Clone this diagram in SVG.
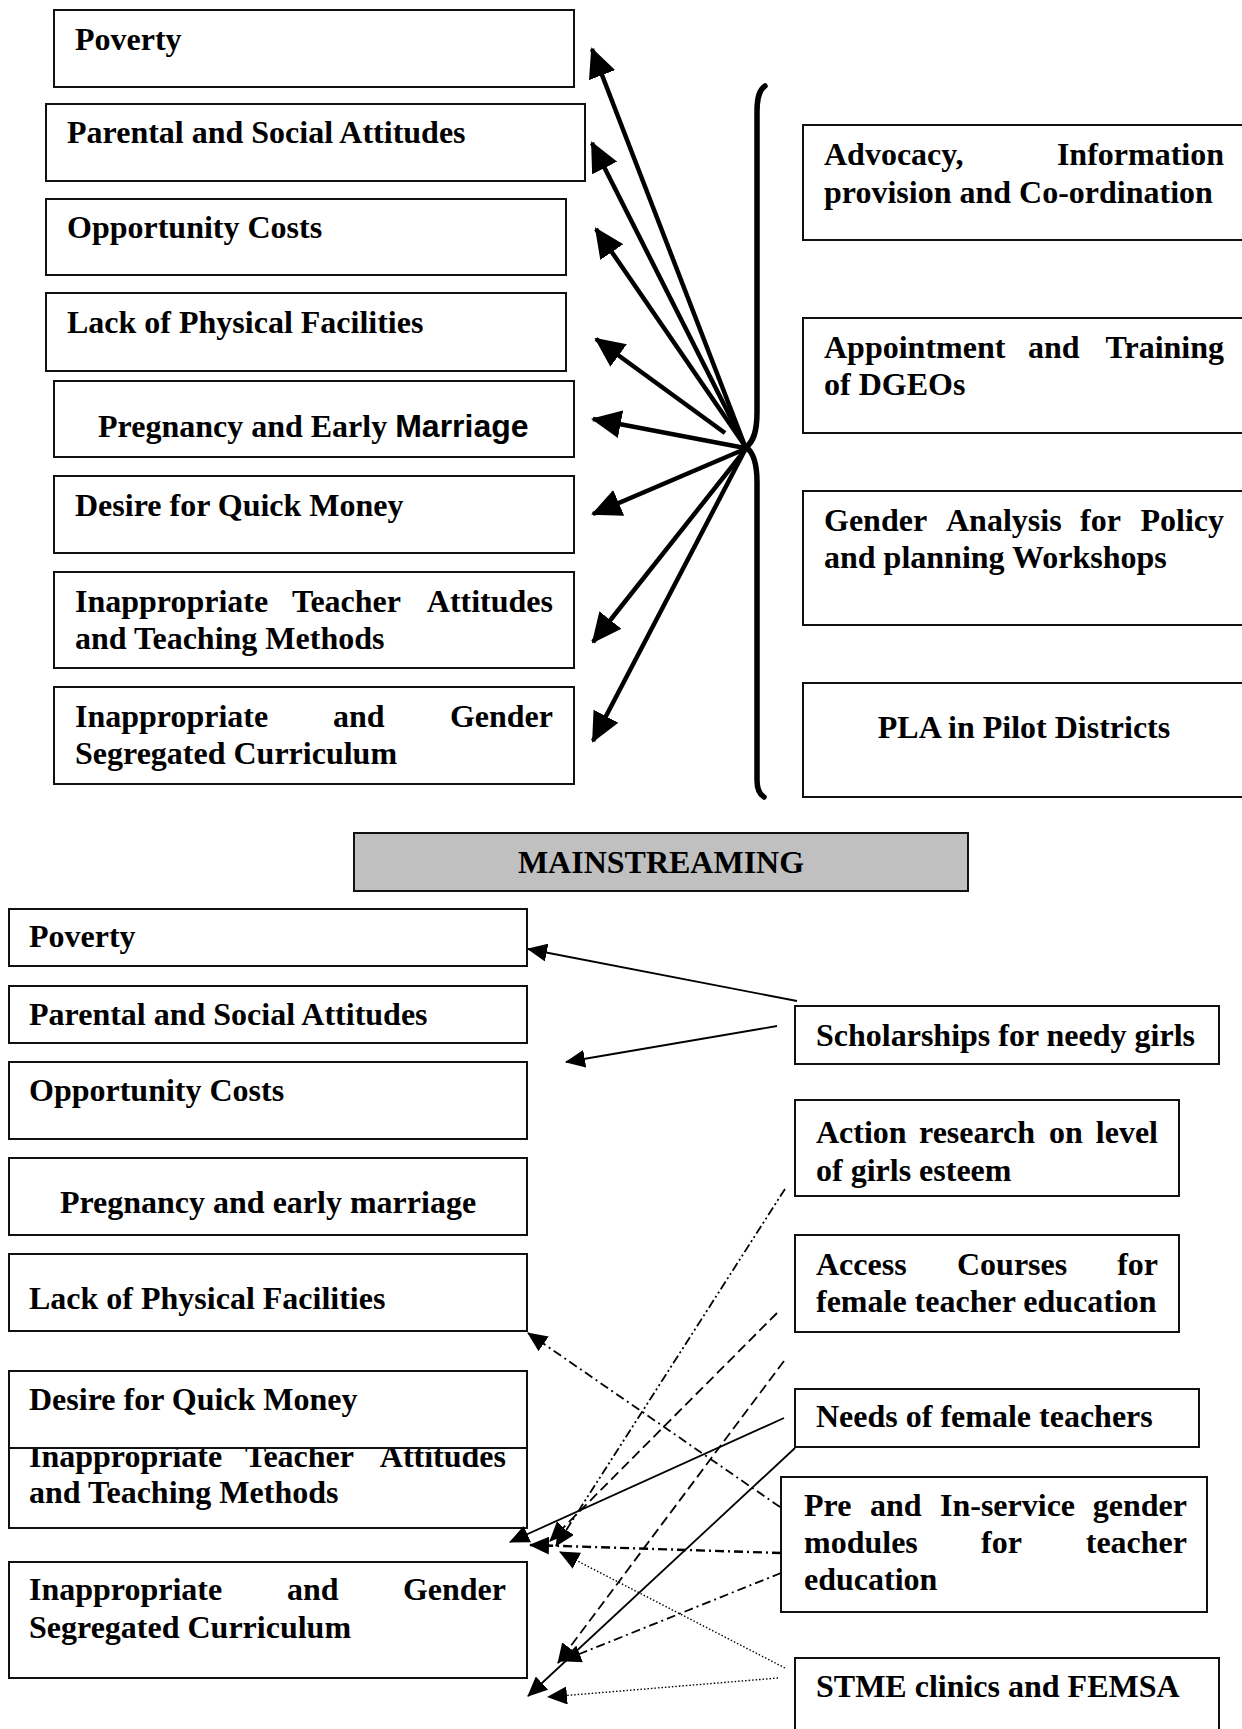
<svg xmlns="http://www.w3.org/2000/svg" width="1242" height="1729" viewBox="0 0 1242 1729">
<style>
.box{fill:#fff;stroke:#111;stroke-width:2}
.t{font-family:"Liberation Serif","Times New Roman",serif;font-weight:bold;font-size:32px;fill:#000}
.sans{font-family:"Liberation Sans",Arial,sans-serif}
.thick{fill:none;stroke:#000;stroke-width:4.5;marker-end:url(#big)}
.thin{fill:none;stroke:#000;stroke-width:1.8;marker-end:url(#sm)}
.dd{stroke-dasharray:9 4 2 4}
.ddd{stroke-dasharray:9 3 2 3 2 3}
.ds{stroke-dasharray:10 5}
.dt{stroke-dasharray:1.5 2;stroke-width:1.4}
</style>
<defs>
<marker id="big" viewBox="0 0 30 28" markerUnits="userSpaceOnUse" markerWidth="30" markerHeight="28" refX="28" refY="14" orient="auto"><path d="M0,0 L30,14 L0,28 z" fill="#000"/></marker>
<marker id="sm" viewBox="0 0 20 18" markerUnits="userSpaceOnUse" markerWidth="20" markerHeight="18" refX="19" refY="9" orient="auto"><path d="M0,0 L20,9 L0,18 z" fill="#000"/></marker>
</defs>
<rect width="1242" height="1729" fill="#fff"/>

<!-- top left nodes -->
<g id="t-poverty"><rect class="box" x="54" y="10" width="520" height="77"/><text class="t" x="75" y="50">Poverty</text></g>
<g id="t-parental"><rect class="box" x="46" y="104" width="539" height="77"/><text class="t" x="67" y="143">Parental and Social Attitudes</text></g>
<g id="t-opportunity"><rect class="box" x="46" y="199" width="520" height="76"/><text class="t" x="67" y="238">Opportunity Costs</text></g>
<g id="t-lack"><rect class="box" x="46" y="293" width="520" height="78"/><text class="t" x="67" y="333">Lack of Physical Facilities</text></g>
<g id="t-pregnancy"><rect class="box" x="54" y="381" width="520" height="76"/><text class="t" x="98" y="437">Pregnancy and Early <tspan class="sans">Marriage</tspan></text></g>
<g id="t-desire"><rect class="box" x="54" y="476" width="520" height="77"/><text class="t" x="75" y="516">Desire for Quick Money</text></g>
<g id="t-teacher"><rect class="box" x="54" y="572" width="520" height="96"/><text class="t" y="612"><tspan x="75">Inappropriate</tspan><tspan x="292">Teacher</tspan><tspan x="553" text-anchor="end">Attitudes</tspan></text><text class="t" x="75" y="649">and Teaching Methods</text></g>
<g id="t-curriculum"><rect class="box" x="54" y="687" width="520" height="97"/><text class="t" y="727"><tspan x="75">Inappropriate</tspan><tspan x="333">and</tspan><tspan x="553" text-anchor="end">Gender</tspan></text><text class="t" x="75" y="764">Segregated Curriculum</text></g>

<!-- top right nodes -->
<g id="t-advocacy"><rect class="box" x="803" y="125" width="460" height="115"/><text class="t" y="165"><tspan x="824">Advocacy,</tspan><tspan x="1224" text-anchor="end">Information</tspan></text><text class="t" x="824" y="203">provision and Co-ordination</text></g>
<g id="t-appointment"><rect class="box" x="803" y="318" width="460" height="115"/><text class="t" y="358"><tspan x="824">Appointment</tspan><tspan x="1028">and</tspan><tspan x="1224" text-anchor="end">Training</tspan></text><text class="t" x="824" y="395">of DGEOs</text></g>
<g id="t-gender"><rect class="box" x="803" y="491" width="460" height="134"/><text class="t" y="531"><tspan x="824">Gender</tspan><tspan x="946">Analysis</tspan><tspan x="1080">for</tspan><tspan x="1224" text-anchor="end">Policy</tspan></text><text class="t" x="824" y="568">and planning Workshops</text></g>
<g id="t-pla"><rect class="box" x="803" y="683" width="460" height="114"/><text class="t" x="1024" y="738" text-anchor="middle">PLA in Pilot Districts</text></g>

<!-- brace -->
<g id="brace"><path d="M765,86 C759,90 757,98 757,112 L757,412 C757,433 753,442 746,447 C753,452 757,462 757,482 L757,780 C757,789 759,794 764,797" fill="none" stroke="#000" stroke-width="5.5" stroke-linecap="round"/></g>

<!-- top connectors -->
<g id="top-connectors">
<line class="thick" x1="745" y1="446" x2="592" y2="49"/>
<line class="thick" x1="745" y1="446" x2="592" y2="143"/>
<line class="thick" x1="745" y1="446" x2="596" y2="229"/>
<line class="thick" x1="725" y1="433" x2="596" y2="339"/>
<line class="thick" x1="745" y1="448" x2="593" y2="419"/>
<line class="thick" x1="745" y1="449" x2="593" y2="514"/>
<line class="thick" x1="745" y1="450" x2="593" y2="642"/>
<line class="thick" x1="745" y1="450" x2="593" y2="741"/>
</g>

<!-- mainstreaming -->
<g id="mainstreaming"><rect x="354" y="833" width="614" height="58" fill="#c0c0c0" stroke="#111" stroke-width="2"/><text class="t" x="661" y="873" text-anchor="middle">MAINSTREAMING</text></g>

<!-- bottom left nodes -->
<g id="b-poverty"><rect class="box" x="9" y="909" width="518" height="57"/><text class="t" x="29" y="947">Poverty</text></g>
<g id="b-parental"><rect class="box" x="9" y="986" width="518" height="57"/><text class="t" x="29" y="1025">Parental and Social Attitudes</text></g>
<g id="b-opportunity"><rect class="box" x="9" y="1062" width="518" height="77"/><text class="t" x="29" y="1101">Opportunity Costs</text></g>
<g id="b-pregnancy"><rect class="box" x="9" y="1158" width="518" height="77"/><text class="t" x="268" y="1213" text-anchor="middle">Pregnancy and early marriage</text></g>
<g id="b-lack"><rect class="box" x="9" y="1254" width="518" height="77"/><text class="t" x="29" y="1309">Lack of Physical Facilities</text></g>
<g id="b-teacher"><rect class="box" x="9" y="1420" width="518" height="108"/><text class="t" y="1467"><tspan x="29">Inappropriate</tspan><tspan x="245">Teacher</tspan><tspan x="506" text-anchor="end">Attitudes</tspan></text><text class="t" x="29" y="1503">and Teaching Methods</text></g>
<g id="b-desire"><rect class="box" x="9" y="1371" width="518" height="77"/><text class="t" x="29" y="1410">Desire for Quick Money</text></g>
<g id="b-curriculum"><rect class="box" x="9" y="1562" width="518" height="116"/><text class="t" y="1600"><tspan x="29">Inappropriate</tspan><tspan x="287">and</tspan><tspan x="506" text-anchor="end">Gender</tspan></text><text class="t" x="29" y="1638">Segregated Curriculum</text></g>

<!-- bottom right nodes -->
<g id="b-scholarships"><rect class="box" x="795" y="1006" width="424" height="58"/><text class="t" x="816" y="1046">Scholarships for needy girls</text></g>
<g id="b-action"><rect class="box" x="795" y="1100" width="384" height="96"/><text class="t" y="1143"><tspan x="816">Action</tspan><tspan x="919">research</tspan><tspan x="1049">on</tspan><tspan x="1158" text-anchor="end">level</tspan></text><text class="t" x="816" y="1181">of girls esteem</text></g>
<g id="b-access"><rect class="box" x="795" y="1235" width="384" height="97"/><text class="t" y="1275"><tspan x="816">Access</tspan><tspan x="957">Courses</tspan><tspan x="1158" text-anchor="end">for</tspan></text><text class="t" x="816" y="1312">female teacher education</text></g>
<g id="b-needs"><rect class="box" x="795" y="1389" width="404" height="58"/><text class="t" x="816" y="1427">Needs of female teachers</text></g>
<g id="b-preservice"><rect class="box" x="781" y="1477" width="426" height="135"/><text class="t" y="1516"><tspan x="804">Pre</tspan><tspan x="870">and</tspan><tspan x="940">In-service</tspan><tspan x="1187" text-anchor="end">gender</tspan></text><text class="t" y="1553"><tspan x="804">modules</tspan><tspan x="981">for</tspan><tspan x="1187" text-anchor="end">teacher</tspan></text><text class="t" x="804" y="1590">education</text></g>
<g id="b-stme"><rect class="box" x="795" y="1658" width="424" height="90"/><text class="t" x="816" y="1697">STME clinics and FEMSA</text></g>

<!-- bottom connectors -->
<g id="bottom-connectors">
<line class="thin" x1="797" y1="1001" x2="528" y2="949"/>
<line class="thin" x1="777" y1="1026" x2="566" y2="1062"/>
<line class="thin dd" x1="780" y1="1507" x2="528" y2="1333"/>
<line class="thin ddd" x1="785" y1="1189" x2="556" y2="1546"/>
<line class="thin ds" x1="777" y1="1313" x2="550" y2="1541"/>
<line class="thin ds" x1="784" y1="1361" x2="558" y2="1663"/>
<line class="thin" x1="784" y1="1418" x2="510" y2="1542"/>
<line class="thin" x1="795" y1="1448" x2="528" y2="1696"/>
<line class="thin dd" style="stroke-width:2.4" x1="781" y1="1553" x2="530" y2="1545"/>
<line class="thin dd" x1="781" y1="1573" x2="562" y2="1661"/>
<line class="thin dt" x1="785" y1="1668" x2="560" y2="1552"/>
<line class="thin dt" x1="778" y1="1678" x2="548" y2="1697"/>
</g>
</svg>
